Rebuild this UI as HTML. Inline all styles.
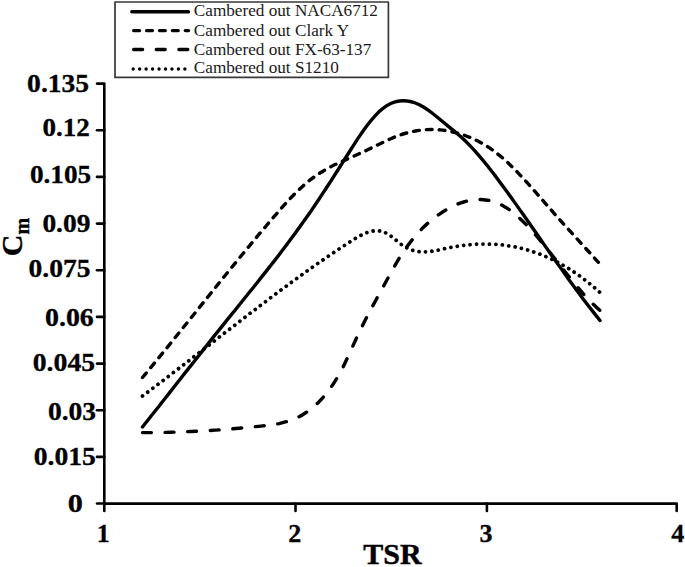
<!DOCTYPE html>
<html><head><meta charset="utf-8"><style>
html,body{margin:0;padding:0;background:#fff;width:685px;height:567px;overflow:hidden}
svg{display:block}
.tl{font-family:"Liberation Serif",serif;font-weight:bold;font-size:25.5px;fill:#000;stroke:#000;stroke-width:0.3px}
.ax{font-family:"Liberation Serif",serif;font-weight:bold;font-size:30px;fill:#000;stroke:#000;stroke-width:0.4px}
.lg{font-family:"Liberation Serif",serif;font-size:17.2px;fill:#1a1a1a}
</style></head><body>
<svg width="685" height="567" viewBox="0 0 685 567">
<rect x="0" y="0" width="685" height="567" fill="#fff"/>
<path d="M97,83.6 H104.3 V503.6 H676.7 V511" fill="none" stroke="#000" stroke-width="2.6" stroke-linecap="round" stroke-linejoin="round"/>
<path d="M97,130.3 H104.3" stroke="#000" stroke-width="2.6" stroke-linecap="round"/>
<path d="M97,176.9 H104.3" stroke="#000" stroke-width="2.6" stroke-linecap="round"/>
<path d="M97,223.6 H104.3" stroke="#000" stroke-width="2.6" stroke-linecap="round"/>
<path d="M97,270.2 H104.3" stroke="#000" stroke-width="2.6" stroke-linecap="round"/>
<path d="M97,316.9 H104.3" stroke="#000" stroke-width="2.6" stroke-linecap="round"/>
<path d="M97,363.6 H104.3" stroke="#000" stroke-width="2.6" stroke-linecap="round"/>
<path d="M97,410.2 H104.3" stroke="#000" stroke-width="2.6" stroke-linecap="round"/>
<path d="M97,456.9 H104.3" stroke="#000" stroke-width="2.6" stroke-linecap="round"/>
<path d="M97,503.5 H104.3" stroke="#000" stroke-width="2.6" stroke-linecap="round"/>
<path d="M104.3,503.6 V511" stroke="#000" stroke-width="2.6" stroke-linecap="round"/>
<path d="M295.5,503.6 V511" stroke="#000" stroke-width="2.6" stroke-linecap="round"/>
<path d="M486.9,503.6 V511" stroke="#000" stroke-width="2.6" stroke-linecap="round"/>
<text x="27.10" y="91.8" class="tl" textLength="62.07" lengthAdjust="spacingAndGlyphs">0.135</text>
<text x="42.42" y="136.2" class="tl" textLength="47.43" lengthAdjust="spacingAndGlyphs">0.12</text>
<text x="29.91" y="182.6" class="tl" textLength="61.34" lengthAdjust="spacingAndGlyphs">0.105</text>
<text x="42.40" y="232.2" class="tl" textLength="48.06" lengthAdjust="spacingAndGlyphs">0.09</text>
<text x="28.50" y="276.9" class="tl" textLength="61.97" lengthAdjust="spacingAndGlyphs">0.075</text>
<text x="44.98" y="325.9" class="tl" textLength="48.79" lengthAdjust="spacingAndGlyphs">0.06</text>
<text x="32.79" y="371.2" class="tl" textLength="62.28" lengthAdjust="spacingAndGlyphs">0.045</text>
<text x="47.90" y="419.8" class="tl" textLength="48.16" lengthAdjust="spacingAndGlyphs">0.03</text>
<text x="33.70" y="465.2" class="tl" textLength="62.07" lengthAdjust="spacingAndGlyphs">0.015</text>
<text x="67.79" y="512.2" class="tl" textLength="15.12" lengthAdjust="spacingAndGlyphs">0</text>
<text x="103.3" y="542.2" text-anchor="middle" class="tl" style="font-size:26px">1</text>
<text x="294.8" y="542.2" text-anchor="middle" class="tl" style="font-size:26px">2</text>
<text x="486.0" y="542.2" text-anchor="middle" class="tl" style="font-size:26px">3</text>
<text x="677.7" y="542.2" text-anchor="middle" class="tl" style="font-size:26px">4</text>
<text x="392.5" y="564" text-anchor="middle" class="ax">TSR</text>
<g transform="translate(22,237) rotate(-90)"><text x="0" y="0" text-anchor="middle" class="ax">C<tspan font-size="20" dy="7">m</tspan></text></g>
<path d="M142.5,427.0 C145.2,423.6 147.9,420.2 150.5,416.8 C153.2,413.4 155.9,410.1 158.6,406.7 C161.2,403.3 163.9,399.9 166.6,396.5 C169.3,393.1 171.9,389.6 174.6,386.2 C177.3,382.8 180.0,379.4 182.6,376.0 C185.3,372.6 188.0,369.2 190.7,365.9 C193.3,362.5 196.0,359.1 198.7,355.7 C201.4,352.3 204.0,348.9 206.7,345.5 C209.4,342.2 212.1,338.8 214.7,335.4 C217.4,332.1 220.1,328.7 222.8,325.4 C225.4,322.1 228.1,318.7 230.8,315.4 C233.5,312.1 236.1,308.8 238.8,305.5 C241.5,302.1 244.2,298.8 246.8,295.5 C249.5,292.2 252.2,288.9 254.9,285.5 C257.5,282.2 260.2,278.8 262.9,275.4 C265.6,272.1 268.2,268.7 270.9,265.2 C273.6,261.8 276.3,258.4 278.9,254.9 C281.6,251.4 284.3,247.9 287.0,244.3 C289.6,240.7 292.3,237.1 295.0,233.5 C297.7,229.8 300.4,226.1 303.0,222.3 C305.7,218.6 308.4,214.7 311.1,210.9 C313.7,207.0 316.4,203.0 319.1,199.0 C321.8,195.0 324.4,190.9 327.1,186.8 C329.8,182.7 332.5,178.5 335.1,174.3 C337.8,170.1 340.5,165.9 343.2,161.7 C345.8,157.4 348.5,153.2 351.2,149.0 C353.9,144.8 356.5,140.6 359.2,136.6 C361.9,132.7 364.6,128.9 367.2,125.3 C369.9,121.8 372.6,118.5 375.3,115.6 C377.9,112.7 380.6,110.2 383.3,108.2 C386.0,106.1 388.6,104.5 391.3,103.3 C394.0,102.1 396.7,101.4 399.3,101.0 C402.0,100.6 404.7,100.6 407.4,101.0 C410.0,101.3 412.7,102.0 415.4,103.0 C418.1,104.1 420.7,105.4 423.4,107.0 C426.1,108.6 428.8,110.5 431.4,112.5 C434.1,114.6 436.8,116.7 439.5,119.0 C442.1,121.2 444.8,123.4 447.5,125.6 C450.2,127.9 452.9,130.0 455.5,132.2 C458.2,134.4 460.9,136.7 463.6,139.2 C466.2,141.7 468.9,144.4 471.6,147.3 C474.3,150.1 476.9,153.1 479.6,156.3 C482.3,159.4 485.0,162.7 487.6,166.0 C490.3,169.4 493.0,172.9 495.7,176.4 C498.3,180.0 501.0,183.6 503.7,187.2 C506.4,190.9 509.0,194.6 511.7,198.3 C514.4,202.1 517.1,205.8 519.7,209.6 C522.4,213.4 525.1,217.2 527.8,221.0 C530.4,224.9 533.1,228.7 535.8,232.5 C538.5,236.4 541.1,240.2 543.8,244.1 C546.5,247.9 549.2,251.7 551.8,255.5 C554.5,259.4 557.2,263.2 559.9,266.9 C562.5,270.7 565.2,274.5 567.9,278.2 C570.6,281.9 573.2,285.6 575.9,289.2 C578.6,292.8 581.3,296.4 583.9,300.0 C586.6,303.5 589.3,307.0 592.0,310.4 C594.6,313.8 597.3,317.2 600.0,320.5" fill="none" stroke="#000" stroke-width="3.4" stroke-linecap="round" stroke-linejoin="round"/>
<path d="M142.5,377.5 C145.2,374.3 147.9,371.0 150.5,367.8 C153.2,364.6 155.9,361.3 158.6,358.0 C161.2,354.7 163.9,351.5 166.6,348.2 C169.3,344.9 171.9,341.6 174.6,338.3 C177.3,334.9 180.0,331.6 182.6,328.3 C185.3,325.0 188.0,321.7 190.7,318.3 C193.3,315.0 196.0,311.7 198.7,308.3 C201.4,305.0 204.0,301.7 206.7,298.4 C209.4,295.0 212.1,291.7 214.7,288.4 C217.4,285.1 220.1,281.7 222.8,278.4 C225.4,275.1 228.1,271.8 230.8,268.6 C233.5,265.3 236.1,262.0 238.8,258.7 C241.5,255.5 244.2,252.2 246.8,249.0 C249.5,245.7 252.2,242.5 254.9,239.3 C257.5,236.1 260.2,232.9 262.9,229.7 C265.6,226.6 268.2,223.4 270.9,220.3 C273.6,217.2 276.3,214.0 278.9,211.0 C281.6,207.9 284.3,205.0 287.0,202.0 C289.6,199.1 292.3,196.3 295.0,193.6 C297.7,190.9 300.4,188.4 303.0,186.0 C305.7,183.6 308.4,181.3 311.1,179.2 C313.7,177.2 316.4,175.3 319.1,173.6 C321.8,171.8 324.4,170.2 327.1,168.8 C329.8,167.3 332.5,165.9 335.1,164.6 C337.8,163.3 340.5,162.1 343.2,160.9 C345.8,159.7 348.5,158.5 351.2,157.3 C353.9,156.1 356.5,154.9 359.2,153.7 C361.9,152.5 364.6,151.3 367.2,150.0 C369.9,148.7 372.6,147.4 375.3,146.1 C377.9,144.8 380.6,143.5 383.3,142.2 C386.0,140.9 388.6,139.6 391.3,138.5 C394.0,137.3 396.7,136.2 399.3,135.3 C402.0,134.3 404.7,133.5 407.4,132.8 C410.0,132.1 412.7,131.5 415.4,131.0 C418.1,130.5 420.7,130.1 423.4,129.9 C426.1,129.6 428.8,129.5 431.4,129.5 C434.1,129.5 436.8,129.6 439.5,129.8 C442.1,130.1 444.8,130.4 447.5,130.9 C450.2,131.3 452.9,131.9 455.5,132.6 C458.2,133.3 460.9,134.1 463.6,135.0 C466.2,135.9 468.9,137.0 471.6,138.1 C474.3,139.3 476.9,140.6 479.6,142.0 C482.3,143.5 485.0,145.0 487.6,146.7 C490.3,148.5 493.0,150.3 495.7,152.3 C498.3,154.4 501.0,156.6 503.7,158.9 C506.4,161.3 509.0,163.8 511.7,166.4 C514.4,169.0 517.1,171.8 519.7,174.6 C522.4,177.4 525.1,180.4 527.8,183.4 C530.4,186.3 533.1,189.4 535.8,192.4 C538.5,195.5 541.1,198.5 543.8,201.6 C546.5,204.7 549.2,207.7 551.8,210.7 C554.5,213.8 557.2,216.8 559.9,219.8 C562.5,222.8 565.2,225.7 567.9,228.7 C570.6,231.7 573.2,234.7 575.9,237.6 C578.6,240.6 581.3,243.5 583.9,246.4 C586.6,249.4 589.3,252.3 592.0,255.2 C594.6,258.2 597.3,261.1 600.0,264.0" fill="none" stroke="#000" stroke-width="3.4" stroke-linecap="round" stroke-dasharray="5.8 7.1"/>
<path d="M142.5,432.6 C145.2,432.6 147.9,432.6 150.5,432.6 C153.2,432.6 155.9,432.5 158.6,432.5 C161.2,432.5 163.9,432.4 166.6,432.4 C169.3,432.3 171.9,432.2 174.6,432.1 C177.3,432.1 180.0,432.0 182.6,431.9 C185.3,431.8 188.0,431.6 190.7,431.5 C193.3,431.4 196.0,431.3 198.7,431.1 C201.4,431.0 204.0,430.8 206.7,430.7 C209.4,430.5 212.1,430.3 214.7,430.1 C217.4,429.9 220.1,429.8 222.8,429.6 C225.4,429.4 228.1,429.1 230.8,428.9 C233.5,428.7 236.1,428.5 238.8,428.2 C241.5,428.0 244.2,427.8 246.8,427.5 C249.5,427.3 252.2,427.0 254.9,426.7 C257.5,426.5 260.2,426.2 262.9,425.9 C265.6,425.6 268.2,425.3 270.9,424.9 C273.6,424.6 276.3,424.1 278.9,423.6 C281.6,423.0 284.3,422.3 287.0,421.5 C289.6,420.7 292.3,419.7 295.0,418.6 C297.7,417.4 300.4,416.1 303.0,414.5 C305.7,412.9 308.4,411.1 311.1,408.9 C313.7,406.8 316.4,404.4 319.1,401.7 C321.8,399.0 324.4,396.0 327.1,392.6 C329.8,389.1 332.5,385.3 335.1,381.1 C337.8,376.8 340.5,372.1 343.2,366.8 C345.8,361.5 348.5,355.6 351.2,349.7 C353.9,343.7 356.5,337.8 359.2,332.2 C361.9,326.7 364.6,321.4 367.2,316.2 C369.9,311.1 372.6,306.1 375.3,301.2 C377.9,296.3 380.6,291.5 383.3,286.6 C386.0,281.8 388.6,276.8 391.3,272.0 C394.0,267.2 396.7,262.5 399.3,258.1 C402.0,253.8 404.7,249.8 407.4,246.1 C410.0,242.5 412.7,239.1 415.4,235.9 C418.1,232.8 420.7,230.0 423.4,227.3 C426.1,224.7 428.8,222.3 431.4,220.1 C434.1,217.9 436.8,215.9 439.5,214.1 C442.1,212.3 444.8,210.6 447.5,209.1 C450.2,207.6 452.9,206.2 455.5,205.0 C458.2,203.8 460.9,202.8 463.6,202.0 C466.2,201.2 468.9,200.6 471.6,200.1 C474.3,199.7 476.9,199.5 479.6,199.5 C482.3,199.5 485.0,199.8 487.6,200.2 C490.3,200.7 493.0,201.5 495.7,202.4 C498.3,203.4 501.0,204.7 503.7,206.2 C506.4,207.7 509.0,209.5 511.7,211.5 C514.4,213.6 517.1,215.8 519.7,218.3 C522.4,220.8 525.1,223.5 527.8,226.3 C530.4,229.1 533.1,232.1 535.8,235.2 C538.5,238.3 541.1,241.5 543.8,244.8 C546.5,248.1 549.2,251.5 551.8,254.9 C554.5,258.3 557.2,261.7 559.9,265.1 C562.5,268.5 565.2,271.9 567.9,275.3 C570.6,278.6 573.2,282.0 575.9,285.2 C578.6,288.4 581.3,291.5 583.9,294.5 C586.6,297.5 589.3,300.3 592.0,303.0 C594.6,305.7 597.3,308.2 600.0,310.5" fill="none" stroke="#000" stroke-width="3.4" stroke-linecap="round" stroke-dasharray="8.9 13.7"/>
<path d="M142.5,396.0 C145.2,394.0 147.9,392.0 150.5,390.0 C153.2,387.9 155.9,385.9 158.6,383.9 C161.2,381.9 163.9,379.8 166.6,377.8 C169.3,375.8 171.9,373.7 174.6,371.7 C177.3,369.6 180.0,367.5 182.6,365.5 C185.3,363.4 188.0,361.4 190.7,359.3 C193.3,357.2 196.0,355.1 198.7,353.1 C201.4,351.0 204.0,348.9 206.7,346.8 C209.4,344.8 212.1,342.7 214.7,340.6 C217.4,338.5 220.1,336.5 222.8,334.4 C225.4,332.3 228.1,330.3 230.8,328.2 C233.5,326.1 236.1,324.1 238.8,322.0 C241.5,319.9 244.2,317.9 246.8,315.8 C249.5,313.8 252.2,311.7 254.9,309.7 C257.5,307.7 260.2,305.6 262.9,303.6 C265.6,301.6 268.2,299.6 270.9,297.5 C273.6,295.5 276.3,293.5 278.9,291.5 C281.6,289.6 284.3,287.6 287.0,285.6 C289.6,283.6 292.3,281.7 295.0,279.7 C297.7,277.8 300.4,275.9 303.0,273.9 C305.7,272.0 308.4,270.1 311.1,268.2 C313.7,266.3 316.4,264.4 319.1,262.6 C321.8,260.7 324.4,258.9 327.1,257.0 C329.8,255.2 332.5,253.4 335.1,251.6 C337.8,249.8 340.5,248.0 343.2,246.3 C345.8,244.5 348.5,242.8 351.2,241.1 C353.9,239.4 356.5,237.7 359.2,236.2 C361.9,234.8 364.6,233.5 367.2,232.5 C369.9,231.6 372.6,230.9 375.3,230.8 C377.9,230.6 380.6,231.0 383.3,231.9 C386.0,232.8 388.6,234.4 391.3,236.4 C394.0,238.4 396.7,240.7 399.3,242.9 C402.0,245.0 404.7,246.9 407.4,248.2 C410.0,249.6 412.7,250.5 415.4,251.1 C418.1,251.7 420.7,251.9 423.4,251.9 C426.1,251.9 428.8,251.7 431.4,251.3 C434.1,250.9 436.8,250.4 439.5,249.8 C442.1,249.2 444.8,248.6 447.5,248.1 C450.2,247.5 452.9,247.0 455.5,246.6 C458.2,246.1 460.9,245.7 463.6,245.4 C466.2,245.1 468.9,244.8 471.6,244.6 C474.3,244.4 476.9,244.2 479.6,244.1 C482.3,244.0 485.0,244.0 487.6,244.1 C490.3,244.1 493.0,244.2 495.7,244.4 C498.3,244.6 501.0,244.8 503.7,245.1 C506.4,245.5 509.0,245.9 511.7,246.3 C514.4,246.8 517.1,247.3 519.7,248.0 C522.4,248.6 525.1,249.3 527.8,250.1 C530.4,250.9 533.1,251.7 535.8,252.7 C538.5,253.6 541.1,254.6 543.8,255.7 C546.5,256.9 549.2,258.0 551.8,259.3 C554.5,260.6 557.2,262.0 559.9,263.5 C562.5,264.9 565.2,266.5 567.9,268.1 C570.6,269.8 573.2,271.5 575.9,273.3 C578.6,275.2 581.3,277.1 583.9,279.1 C586.6,281.2 589.3,283.3 592.0,285.5 C594.6,287.8 597.3,290.1 600.0,292.5" fill="none" stroke="#000" stroke-width="3.8" stroke-linecap="round" stroke-dasharray="0.01 6.45"/>
<rect x="115" y="2" width="273.4" height="75.4" fill="#fff" stroke="#383838" stroke-width="1.7" stroke-linejoin="round"/>
<path d="M131.8,11.8 H188.5" stroke="#000" stroke-width="3.4" stroke-linecap="round"/>
<path d="M133.7,30.6 H188.5" stroke="#000" stroke-width="3.4" stroke-linecap="round" stroke-dasharray="5.8 7.1"/>
<path d="M133.7,49.5 H188" stroke="#000" stroke-width="3.4" stroke-linecap="round" stroke-dasharray="8.9 13.7"/>
<path d="M133.2,69.0 H186" stroke="#000" stroke-width="3.4" stroke-linecap="round" stroke-dasharray="0.01 6.45"/>
<text transform="translate(193.8,16.1) scale(1,1.03)" class="lg">Cambered out NACA6712</text>
<text transform="translate(193.8,35.7) scale(1,1.03)" class="lg">Cambered out Clark Y</text>
<text transform="translate(193.8,54.6) scale(1,1.03)" class="lg">Cambered out FX-63-137</text>
<text transform="translate(193.8,73.3) scale(1,1.03)" class="lg">Cambered out S1210</text>
</svg>
</body></html>
